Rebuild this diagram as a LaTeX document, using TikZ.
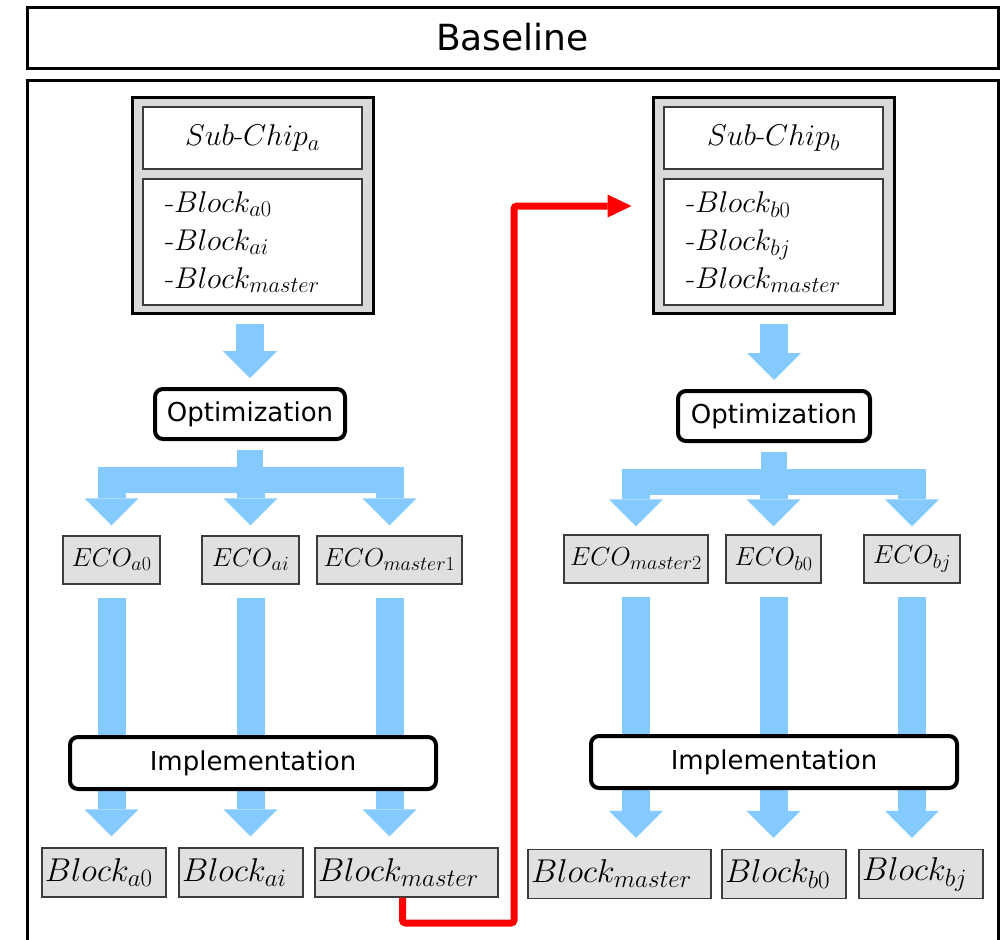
\RequirePackage{fix-cm}
\documentclass[tikz,border=0pt]{standalone}
\usepackage{fontspec}
\newfontfamily\labelfont{DejaVu Sans}
\usetikzlibrary{positioning,calc,arrows.meta}

\DeclareMathSizes{26}{26}{20}{14}
\DeclareMathSizes{30}{30}{22.5}{16}
\DeclareMathSizes{33}{33}{25}{18}

\definecolor{flowblue}{RGB}{133,202,255}
\definecolor{chipgray}{RGB}{217,217,217}
\definecolor{boxgray}{RGB}{224,224,224}
\definecolor{edgegray}{RGB}{60,60,60}

\begin{document}
\begin{tikzpicture}[x=1pt,y=-1pt,
    title/.style={rectangle, draw, line width=3pt, minimum width=971pt, minimum height=61pt,
        font=\labelfont\fontsize{36}{40}\selectfont},
    frame/.style={rectangle, draw, line width=3pt, minimum width=971pt, minimum height=880pt},
    chip/.style={rectangle, draw, line width=3pt, fill=chipgray, minimum width=241pt, minimum height=216pt},
    chiptitle/.style={rectangle, draw=edgegray, line width=1.2pt, fill=white, minimum width=219pt,
        minimum height=62pt, inner sep=0pt, font=\fontsize{30}{37}\selectfont},
    chiplist/.style={rectangle, draw=edgegray, line width=1.2pt, fill=white, minimum height=126pt,
        text width=175pt, inner xsep=22pt, align=left, font=\fontsize{30}{38}\selectfont},
    stage/.style={rectangle, draw, line width=4pt, rounded corners=8pt, fill=white, minimum height=50pt,
        font=\labelfont\fontsize{26}{30}\selectfont},
    eco/.style={rectangle, draw=edgegray, line width=1.2pt, fill=boxgray, minimum height=48pt,
        inner sep=0pt, font=\fontsize{26}{30}\selectfont},
    blk/.style={rectangle, draw=edgegray, line width=1.2pt, fill=boxgray, minimum height=49pt,
        inner xsep=3pt, inner ysep=0pt, align=left, font=\fontsize{33}{38}\selectfont},
    flow/.style={draw=flowblue, line width=28pt, -{Triangle[width=54pt,length=27pt,line width=0pt]}},
    flowbar/.style={draw=flowblue, line width=26pt},
    redflow/.style={draw=red, line width=7pt, rounded corners=3pt,
        -{Triangle[width=23pt,length=24pt,line width=0pt]}}
]
\useasboundingbox (0,0) rectangle (1005,940);

\node (Title) [title] at (512.5,37.5) {Baseline};
\node (Frame) [frame] at (512.5,520) {};

\node (SubChipA) [chip] at (252.5,205) {};
\node (SubTitleA) [chiptitle] at (252.5,138) {$Sub$-$Chip_a$};
\node (SubListA) [chiplist] at (252.5,242) {-$Block_{a0}$\\-$Block_{ai}$\\-$Block_{master}$};

\node (SubChipB) [chip] at (773.5,205) {};
\node (SubTitleB) [chiptitle] at (773.5,138) {$Sub$-$Chip_b$};
\node (SubListB) [chiplist] at (773.5,242) {-$Block_{b0}$\\-$Block_{bj}$\\-$Block_{master}$};

\node (OptA) [stage, minimum width=190pt] at (250,414) {Optimization};
\node (OptB) [stage, minimum width=192pt] at (774,416) {Optimization};

\node (EcoA0) [eco, minimum width=97pt] at (111.5,560) {$ECO_{a0}$};
\node (EcoAi) [eco, minimum width=97pt] at (250.5,560) {$ECO_{ai}$};
\node (EcoMasterA) [eco, minimum width=145pt] at (389.5,560) {$ECO_{master1}$};
\node (EcoMasterB) [eco, minimum width=144pt] at (636,559) {$ECO_{master2}$};
\node (EcoB0) [eco, minimum width=95pt] at (773.5,559) {$ECO_{b0}$};
\node (EcoBj) [eco, minimum width=96pt] at (912,559) {$ECO_{bj}$};

\node (BlkA0) [blk, text width=118pt] at (104,872.5) {$Block_{a0}$};
\node (BlkAi) [blk, text width=118pt] at (241,872.5) {$Block_{ai}$};
\node (BlkMasterA) [blk, text width=177pt] at (406.5,872.5) {$Block_{master}$};
\node (BlkMasterB) [blk, text width=177pt] at (619.5,874) {$Block_{master}$};
\node (BlkB0) [blk, text width=118pt] at (784,874) {$Block_{b0}$};
\node (BlkBj) [blk, text width=118pt] at (921,874) {$Block_{bj}$};

\draw[flow, shorten >=9pt] ($(OptA.north|-SubChipA.south)+(0,9)$) -- (OptA.north);
\draw[flow, shorten >=9pt] ($(OptB.north|-SubChipB.south)+(0,9)$) -- (OptB.north);

\coordinate (ForkA) at ($(OptA.south)+(0,26)$);
\coordinate (ForkB) at ($(OptB.south)+(0,26)$);
\draw[flowbar] ($(OptA.south)+(0,9)$) -- ($(ForkA)+(0,13)$);
\draw[flowbar] ($(OptB.south)+(0,9)$) -- ($(ForkB)+(0,13)$);
\draw[flowbar] ($(EcoA0.north|-ForkA)+(0,13)$) -- ($(EcoMasterA.north|-ForkA)+(0,13)$);
\draw[flowbar] ($(EcoMasterB.north|-ForkB)+(0,13)$) -- ($(EcoBj.north|-ForkB)+(0,13)$);
\foreach \n in {EcoA0,EcoAi,EcoMasterA}
    \draw[flow, shorten >=10pt] (\n.north|-ForkA) -- (\n.north);
\foreach \n in {EcoMasterB,EcoB0,EcoBj}
    \draw[flow, shorten >=8pt] (\n.north|-ForkB) -- (\n.north);

\foreach \e/\b in {EcoA0/BlkA0,EcoAi/BlkAi,EcoMasterA/BlkMasterA,EcoMasterB/BlkMasterB,EcoB0/BlkB0,EcoBj/BlkBj}
    \draw[flow, shorten >=11pt] ($(\e.south)+(0,13)$) -- (\e.south|-\b.north);

\node (ImplA) [stage, minimum width=366pt, minimum height=52pt] at (253,763) {Implementation};
\node (ImplB) [stage, minimum width=366pt, minimum height=52pt] at (774,762) {Implementation};

\coordinate (RedTurn) at (514,923);
\coordinate (RedTip) at ($(SubChipB.west)+(-20,1)$);
\draw[redflow] ($(BlkMasterA.south)+(-4,0)$) |- (RedTurn) |- (RedTip);
\end{tikzpicture}
\end{document}
